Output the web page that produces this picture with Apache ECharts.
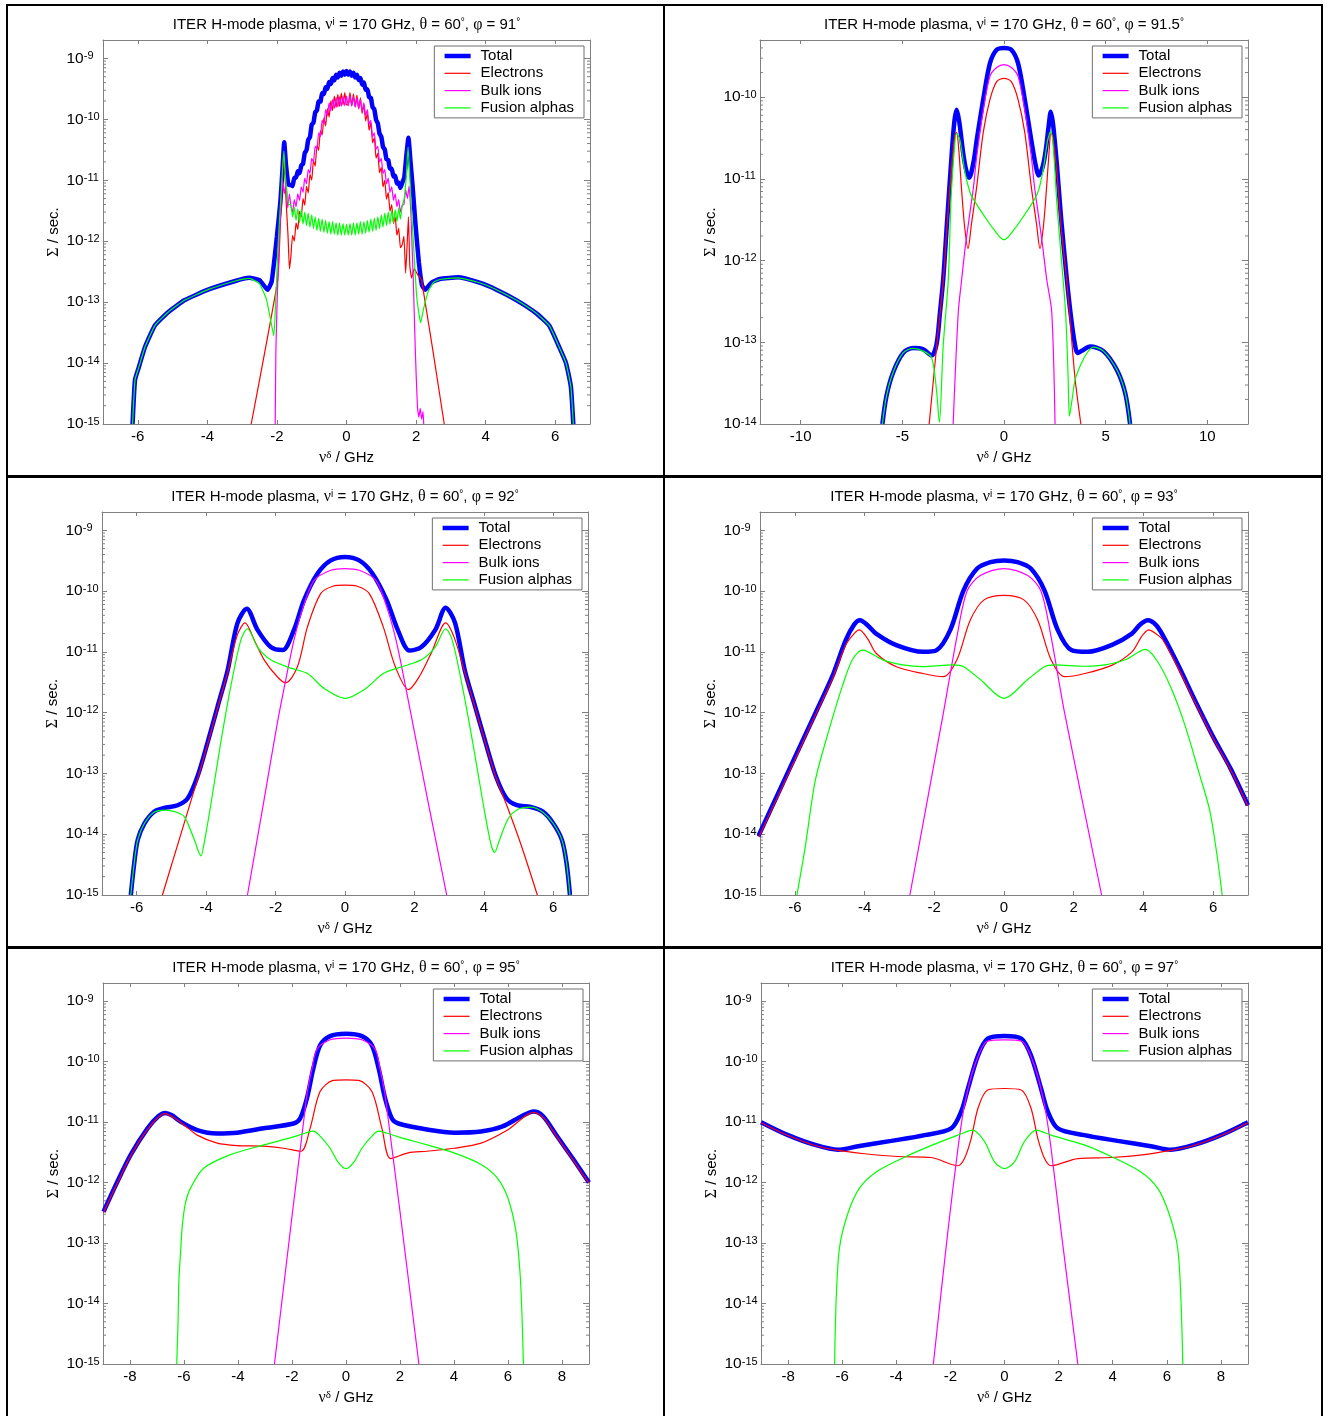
<!DOCTYPE html>
<html><head><meta charset="utf-8">
<script src="https://cdn.jsdelivr.net/npm/echarts@6/dist/echarts.min.js"></script>
<style>html,body{margin:0;padding:0;background:#fff}#c{width:1332px;height:1416px}</style>
</head><body><div id="c"></div>
<script>
// ---------------- DATA ----------------
const seriesNames = ['Total', 'Electrons', 'Bulk ions', 'Fusion alphas'];
const phiLabels = ['91', '91.5', '92', '93', '95', '97'];
const xTicks7 = [-6, -4, -2, 0, 2, 4, 6];
const xTicks12 = [-10, -5, 0, 5, 10];
const xTicks9 = [-8, -6, -4, -2, 0, 2, 4, 6, 8];

// Panel 1 (phi = 91)
const p1TotalL = [[-6.15,1e-15],[-6.08,5.3e-15],[-5.98,8.2e-15],[-5.79,1.85e-14],[-5.5,4.2e-14],[-5.12,6.9e-14],[-4.65,1.08e-13],[-3.98,1.6e-13],[-3.22,2.2e-13],[-2.8,2.5e-13],[-2.5,2.3e-13],[-2.27,1.6e-13],[-2.15,2.2e-13],[-2.0,1.2e-12],[-1.9,4.5e-12],[-1.84,1.5e-11],[-1.79,4.2e-11],[-1.74,1.8e-11],[-1.67,8.5e-12]];
const p1TotalR = [[1.66,1.1e-11],[1.72,2.5e-11],[1.78,5e-11],[1.84,2e-11],[1.9,8e-12],[1.98,2e-12],[2.08,4.5e-13],[2.17,1.9e-13],[2.26,1.6e-13],[2.45,2.1e-13],[2.68,2.4e-13],[3.2,2.55e-13],[3.8,2.1e-13],[4.31,1.6e-13],[4.88,1.08e-13],[5.45,6.6e-14],[5.83,4.1e-14],[6.11,1.85e-14],[6.31,1e-14],[6.45,4.1e-15],[6.52,1e-15]];
const p1ElectronsL = [[-2.74,1e-15],[-1.98,2.3e-13],[-1.9,2e-12],[-1.83,1.5e-11],[-1.79,2.5e-11],[-1.74,5e-12],[-1.68,1.2e-12],[-1.64,3.5e-13]];
const p1ElectronsR = [[1.65,1.2e-12],[1.7,3e-13],[1.74,8e-13],[1.78,2.5e-12],[1.82,4e-13],[1.87,2.5e-13],[1.95,3.5e-13],[2.05,2.8e-13],[2.16,2.3e-13],[2.81,1e-15]];
const p1BulkL = [[-2.05,1e-15],[-2.03,1.6e-14],[-1.99,1.2e-13],[-1.94,8e-13],[-1.89,3.5e-12],[-1.84,1e-11],[-1.79,6e-12],[-1.74,9e-12],[-1.69,3.5e-12],[-1.64,6e-12]];
const p1BulkR = [[1.65,4e-12],[1.7,7e-12],[1.75,5e-12],[1.8,8e-12],[1.85,3e-12],[1.88,1e-12],[1.92,2.3e-13],[1.98,1.5e-14],[2.04,1.9e-15],[2.08,1.3e-15],[2.12,1.8e-15],[2.16,1.2e-15],[2.2,1.6e-15],[2.22,1e-15]];
const p1AlphasL = [[-6.15,1e-15],[-6.08,5.3e-15],[-5.98,8.2e-15],[-5.79,1.85e-14],[-5.5,4.2e-14],[-5.12,6.9e-14],[-4.65,1.08e-13],[-3.98,1.6e-13],[-3.22,2.2e-13],[-2.8,2.45e-13],[-2.5,2.0e-13],[-2.3,1.1e-13],[-2.18,5e-14],[-2.09,2.8e-14],[-2.03,1.2e-13],[-1.97,8e-13],[-1.9,4e-12],[-1.84,1.5e-11],[-1.8,3e-11],[-1.76,1.2e-11],[-1.7,5.5e-12],[-1.65,4e-12]];
const p1AlphasR = [[1.66,5e-12],[1.72,1.2e-11],[1.77,3.5e-11],[1.81,1.5e-11],[1.86,4e-12],[1.93,8e-13],[2.02,1.2e-13],[2.13,4.6e-14],[2.22,8e-14],[2.35,1.5e-13],[2.5,2.1e-13],[2.68,2.35e-13],[3.2,2.5e-13],[3.8,2.1e-13],[4.31,1.6e-13],[4.88,1.08e-13],[5.45,6.6e-14],[5.83,4.1e-14],[6.11,1.85e-14],[6.31,1e-14],[6.45,4.1e-15],[6.52,1e-15]];
// noisy central region of panel 1
const p1NoiseX = [-1.6,-1.55,-1.5,-1.45,-1.4,-1.35,-1.3,-1.25,-1.2,-1.15,-1.1,-1.05,-1.0,-0.95,-0.9,-0.85,-0.8,-0.75,-0.7,-0.65,-0.6,-0.55,-0.5,-0.45,-0.4,-0.35,-0.3,-0.25,-0.2,-0.15,-0.1,-0.05,0,0.05,0.1,0.15,0.2,0.25,0.3,0.35,0.4,0.45,0.5,0.55,0.6,0.65,0.7,0.75,0.8,0.85,0.9,0.95,1.0,1.05,1.1,1.15,1.2,1.25,1.3,1.35,1.4,1.45,1.5,1.55,1.6];
const p1NoiseTotal = [8.3e-12,8.0e-12,1.1e-11,1.1e-11,1.4e-11,1.3e-11,1.75e-11,1.85e-11,2.8e-11,3.1e-11,4.6e-11,5.1e-11,8.2e-11,8.8e-11,1.3e-10,1.4e-10,1.95e-10,1.95e-10,2.7e-10,2.6e-10,3.35e-10,3.15e-10,4.1e-10,3.8e-10,4.75e-10,4.35e-10,5.4e-10,4.85e-10,5.8e-10,5.2e-10,6.1e-10,5.4e-10,6.2e-10,5.4e-10,6.1e-10,5.2e-10,5.8e-10,4.85e-10,5.4e-10,4.4e-10,4.75e-10,3.7e-10,4.0e-10,3.05e-10,3.1e-10,2.3e-10,2.25e-10,1.58e-10,1.45e-10,9.8e-11,8.6e-11,5.8e-11,5.2e-11,3.5e-11,3.2e-11,2.2e-11,2.15e-11,1.55e-11,1.55e-11,1.15e-11,1.18e-11,8.8e-12,9.1e-12,7.5e-12,9e-12];
const p1NoiseElectrons = [5.5e-13,1.25e-12,1.0e-12,2.0e-12,1.56e-12,3.1e-12,2.5e-12,5.0e-12,3.9e-12,7.9e-12,6.2e-12,1.25e-11,1.0e-11,2.1e-11,1.7e-11,3.75e-11,3.1e-11,6.6e-11,5.5e-11,1.06e-10,7.8e-11,1.5e-10,1.09e-10,2.0e-10,1.4e-10,2.4e-10,1.56e-10,2.56e-10,1.64e-10,2.7e-10,1.72e-10,2.75e-10,1.72e-10,1.72e-10,2.75e-10,1.68e-10,2.62e-10,1.6e-10,2.5e-10,1.48e-10,2.25e-10,1.25e-10,1.75e-10,9.4e-11,1.25e-10,6.6e-11,8.75e-11,4.1e-11,5e-11,2.3e-11,2.75e-11,1.33e-11,1.63e-11,7.8e-12,1.0e-11,4.9e-12,6.25e-12,3.1e-12,4e-12,1.95e-12,2.5e-12,1.25e-12,1.63e-12,7.8e-13,8.75e-13];
const p1NoiseBulk = [3.84e-12,3.0e-12,4.8e-12,3.7e-12,6.0e-12,4.7e-12,7.8e-12,6.3e-12,1.08e-11,8.7e-12,1.5e-11,1.29e-11,2.28e-11,2.0e-11,3.6e-11,3.24e-11,6.0e-11,5.2e-11,9.6e-11,8.3e-11,1.44e-10,1.15e-10,1.86e-10,1.37e-10,2.1e-10,1.51e-10,2.26e-10,1.59e-10,2.34e-10,1.64e-10,2.4e-10,1.66e-10,2.4e-10,1.66e-10,2.4e-10,1.64e-10,2.34e-10,1.59e-10,2.26e-10,1.51e-10,2.1e-10,1.37e-10,1.86e-10,1.15e-10,1.44e-10,8.3e-11,9.6e-11,5.2e-11,6e-11,3.24e-11,3.6e-11,2e-11,2.28e-11,1.29e-11,1.5e-11,8.7e-12,1.08e-11,6.3e-12,7.8e-12,4.7e-12,6e-12,3.7e-12,4.8e-12,3e-12,3.84e-12];
const p1NoiseAlphas = [4.0e-12,2.5e-12,3.6e-12,2.2e-12,3.4e-12,2.0e-12,3.3e-12,1.9e-12,3.0e-12,1.8e-12,2.9e-12,1.7e-12,2.7e-12,1.6e-12,2.5e-12,1.5e-12,2.4e-12,1.45e-12,2.3e-12,1.4e-12,2.2e-12,1.35e-12,2.1e-12,1.3e-12,2.1e-12,1.3e-12,2.0e-12,1.25e-12,2.0e-12,1.25e-12,1.95e-12,1.25e-12,1.9e-12,1.25e-12,1.95e-12,1.25e-12,2.0e-12,1.25e-12,2.0e-12,1.3e-12,2.1e-12,1.3e-12,2.1e-12,1.35e-12,2.2e-12,1.4e-12,2.3e-12,1.45e-12,2.4e-12,1.5e-12,2.5e-12,1.6e-12,2.7e-12,1.7e-12,2.9e-12,1.8e-12,3.0e-12,1.9e-12,3.2e-12,2.0e-12,3.3e-12,2.1e-12,3.5e-12,2.3e-12,3.8e-12];

// Panel 2 (phi = 91.5)
const p2Total = [[-5.98,1e-14],[-5.78,2.2e-14],[-5.45,4.3e-14],[-4.96,7.4e-14],[-4.47,8.5e-14],[-3.97,8.2e-14],[-3.56,6.9e-14],[-3.32,9.4e-14],[-3.15,2.3e-13],[-2.99,5.9e-13],[-2.8,3e-12],[-2.6,1.6e-11],[-2.45,4.8e-11],[-2.33,7e-11],[-2.2,5e-11],[-2.0,2e-11],[-1.85,1.25e-11],[-1.71,1.03e-11],[-1.5,1.6e-11],[-1.34,3e-11],[-1.02,9.4e-11],[-0.69,2.6e-10],[-0.36,3.8e-10],[0,4.0e-10],[0.36,3.8e-10],[0.69,2.6e-10],[1.02,9.4e-11],[1.34,3e-11],[1.55,1.5e-11],[1.71,1.1e-11],[1.9,1.4e-11],[2.05,2.2e-11],[2.2,4.5e-11],[2.3,6.6e-11],[2.42,4.5e-11],[2.6,1.5e-11],[2.8,3.5e-12],[3.09,5.9e-13],[3.3,2e-13],[3.5,9e-14],[3.61,7.4e-14],[3.8,7.8e-14],[4.24,8.9e-14],[4.89,7.8e-14],[5.55,4.6e-14],[5.96,2.4e-14],[6.2,1e-14]];
const p2Electrons = [[-3.68,1e-14],[-3.32,8.5e-14],[-2.99,5.5e-13],[-2.8,2.7e-12],[-2.6,1.2e-11],[-2.42,3.4e-11],[-2.33,3.7e-11],[-2.22,2.2e-11],[-2.08,7e-12],[-1.93,2.5e-12],[-1.77,1.4e-12],[-1.6,2.8e-12],[-1.34,8.1e-12],[-1.02,3.7e-11],[-0.69,9.4e-11],[-0.36,1.55e-10],[0,1.7e-10],[0.36,1.55e-10],[0.69,9.4e-11],[1.02,3.7e-11],[1.34,8.1e-12],[1.6,2.8e-12],[1.77,1.4e-12],[1.93,2.5e-12],[2.08,7e-12],[2.22,2.2e-11],[2.31,3.6e-11],[2.4,3.3e-11],[2.6,1.2e-11],[2.8,2.7e-12],[3.09,5.5e-13],[3.3,1.3e-13],[3.5,3.5e-14],[3.78,1e-14]];
const p2Bulk = [[-2.5,1e-14],[-2.25,2.3e-13],[-2.08,5.9e-13],[-1.9,1.5e-12],[-1.7,3.5e-12],[-1.5,8e-12],[-1.34,1.9e-11],[-1.02,6.9e-11],[-0.69,1.8e-10],[-0.36,2.3e-10],[0,2.5e-10],[0.36,2.3e-10],[0.69,1.8e-10],[1.02,6.9e-11],[1.34,1.9e-11],[1.5,8e-12],[1.7,3.5e-12],[1.9,1.5e-12],[2.1,5.9e-13],[2.35,2.3e-13],[2.51,1e-14]];
const p2Alphas = [[-5.98,1e-14],[-5.78,2.2e-14],[-5.45,4.3e-14],[-4.96,7.4e-14],[-4.47,8.4e-14],[-3.97,7.8e-14],[-3.56,6.5e-14],[-3.32,2.6e-14],[-3.18,1.05e-14],[-2.99,9e-14],[-2.74,5.9e-13],[-2.6,6e-12],[-2.45,2.2e-11],[-2.33,3.6e-11],[-2.17,3e-11],[-1.92,1.2e-11],[-1.67,6.8e-12],[-1.5,5.6e-12],[-1.0,3.6e-12],[-0.5,2.4e-12],[0,1.8e-12],[0.5,2.4e-12],[1.0,3.6e-12],[1.5,5.6e-12],[1.72,7.5e-12],[1.95,1.4e-11],[2.15,3e-11],[2.3,3.8e-11],[2.42,2.5e-11],[2.6,5e-12],[2.8,1.2e-12],[3.03,2.3e-13],[3.15,4e-14],[3.22,1.25e-14],[3.35,2e-14],[3.5,3.5e-14],[3.8,5.5e-14],[4.1,7.5e-14],[4.4,8.7e-14],[4.89,7.8e-14],[5.55,4.6e-14],[5.96,2.4e-14],[6.2,1e-14]];

// Panel 3 (phi = 92)
const p3Total = [[-6.17,1e-15],[-6.07,3.4e-15],[-5.97,8.1e-15],[-5.78,1.5e-14],[-5.5,2.35e-14],[-5.21,2.7e-14],[-4.82,3.0e-14],[-4.53,3.9e-14],[-4.25,8.9e-14],[-3.96,3.2e-13],[-3.67,1.26e-12],[-3.38,5e-12],[-3.1,2.95e-11],[-2.83,5.1e-11],[-2.52,2.3e-11],[-2.14,1.2e-11],[-1.8,1.07e-11],[-1.47,2.3e-11],[-1.18,7.1e-11],[-0.79,1.95e-10],[-0.41,3.2e-10],[0,3.65e-10],[0.41,3.2e-10],[0.79,1.95e-10],[1.2,7.1e-11],[1.52,2.3e-11],[1.86,1.05e-11],[2.2,1.2e-11],[2.6,2.3e-11],[2.9,5.3e-11],[3.17,3e-11],[3.45,5e-12],[3.75,1.26e-12],[4.05,3.2e-13],[4.35,8.9e-14],[4.65,3.9e-14],[4.95,3.0e-14],[5.35,2.8e-14],[5.7,2.35e-14],[6.0,1.5e-14],[6.25,8e-15],[6.38,3.4e-15],[6.48,1e-15]];
const p3Electrons = [[-5.26,1e-15],[-4.25,8e-14],[-3.96,3.0e-13],[-3.67,1.2e-12],[-3.38,4.6e-12],[-3.1,1.9e-11],[-2.88,3e-11],[-2.6,1.5e-11],[-2.33,7.4e-12],[-1.95,3.9e-12],[-1.71,3.1e-12],[-1.37,5.7e-12],[-1.08,2.6e-11],[-0.7,9.1e-11],[-0.35,1.2e-10],[0,1.25e-10],[0.35,1.2e-10],[0.7,9.1e-11],[1.1,2.6e-11],[1.45,5.7e-12],[1.83,2.4e-12],[2.15,4e-12],[2.5,1e-11],[2.9,3e-11],[3.15,1.7e-11],[3.45,4.6e-12],[3.75,1.2e-12],[4.05,3.1e-13],[4.35,8.5e-14],[4.7,2.6e-14],[5.1,6e-15],[5.54,1e-15]];
const p3Bulk = [[-2.81,1e-15],[-2.33,3.7e-14],[-1.95,6.7e-13],[-1.71,3.4e-12],[-1.47,1.56e-11],[-1.23,4.9e-11],[-0.89,1.5e-10],[-0.41,2.2e-10],[0,2.35e-10],[0.41,2.2e-10],[0.89,1.5e-10],[1.23,4.9e-11],[1.47,1.56e-11],[1.71,3.4e-12],[1.95,6.7e-13],[2.38,3.7e-14],[2.93,1e-15]];
const p3Alphas = [[-6.17,1e-15],[-6.07,3.4e-15],[-5.97,8.1e-15],[-5.78,1.5e-14],[-5.5,2.3e-14],[-5.17,2.5e-14],[-4.9,2.35e-14],[-4.63,1.95e-14],[-4.34,8.1e-15],[-4.15,4.4e-15],[-4.06,7e-15],[-3.86,3.2e-14],[-3.58,3.2e-13],[-3.29,2.7e-12],[-3.0,1.56e-11],[-2.81,2.4e-11],[-2.52,1.2e-11],[-2.14,7.4e-12],[-1.56,5.4e-12],[-1.08,4.4e-12],[-0.6,2.5e-12],[0,1.72e-12],[0.6,2.5e-12],[1.1,4.4e-12],[1.6,5.6e-12],[2.2,7.4e-12],[2.6,1.2e-11],[2.9,2.4e-11],[3.09,1.56e-11],[3.38,2.7e-12],[3.68,3.2e-13],[3.98,3.2e-14],[4.2,7e-15],[4.31,5e-15],[4.45,8e-15],[4.7,1.8e-14],[5.0,2.6e-14],[5.35,2.8e-14],[5.7,2.3e-14],[6.0,1.5e-14],[6.25,8e-15],[6.38,3.4e-15],[6.48,1e-15]];

// Panel 4 (phi = 93)
const p4Total = [[-7.05,9.2e-15],[-6.18,1.1e-13],[-5.41,9.8e-13],[-4.93,3.9e-12],[-4.54,1.56e-11],[-4.3,2.8e-11],[-4.13,3.3e-11],[-3.9,2.7e-11],[-3.67,2e-11],[-3.09,1.29e-11],[-2.32,1e-11],[-1.93,1.07e-11],[-1.54,2.3e-11],[-1.16,1.03e-10],[-0.77,2.35e-10],[-0.39,3e-10],[0,3.2e-10],[0.39,3e-10],[0.77,2.35e-10],[1.16,1.03e-10],[1.54,2.3e-11],[1.93,1.07e-11],[2.4,1e-11],[3.1,1.3e-11],[3.67,2e-11],[3.9,2.8e-11],[4.13,3.3e-11],[4.35,2.8e-11],[4.55,1.9e-11],[5.0,6e-12],[5.5,1.5e-12],[6.0,4e-13],[6.5,1.2e-13],[7.0,3e-14]];
const p4Electrons = [[-7.05,8.6e-15],[-6.18,1.0e-13],[-5.41,9.2e-13],[-4.93,3.5e-12],[-4.54,1.3e-11],[-4.3,2e-11],[-4.15,2.3e-11],[-3.9,1.6e-11],[-3.67,9.5e-12],[-3.09,5.7e-12],[-2.32,4.4e-12],[-1.74,3.9e-12],[-1.35,7.4e-12],[-0.97,3.3e-11],[-0.58,7.1e-11],[0,8.5e-11],[0.58,7.1e-11],[0.97,3.3e-11],[1.35,7.4e-12],[1.74,3.9e-12],[2.32,4.4e-12],[3.09,6e-12],[3.67,1e-11],[3.95,1.8e-11],[4.15,2.3e-11],[4.35,2e-11],[4.55,1.6e-11],[5.0,5.4e-12],[5.5,1.4e-12],[6.0,3.8e-13],[6.5,1.15e-13],[7.0,2.9e-14]];
const p4Bulk = [[-2.7,1e-15],[-1.74,9.8e-13],[-1.35,1.78e-11],[-1.06,1e-10],[-0.68,1.8e-10],[0,2.35e-10],[0.68,1.8e-10],[1.06,1e-10],[1.35,1.78e-11],[1.74,9.8e-13],[2.8,1e-15]];
const p4Alphas = [[-5.94,1e-15],[-5.7,6.3e-15],[-5.41,7.8e-14],[-5.02,5.2e-13],[-4.64,2.7e-12],[-4.35,7.4e-12],[-4.06,1.07e-11],[-3.48,7.4e-12],[-2.9,6.1e-12],[-2.32,5.7e-12],[-1.75,6e-12],[-1.45,6.1e-12],[-1.16,5.7e-12],[-0.68,3.5e-12],[0,1.72e-12],[0.68,3.5e-12],[1.16,5.7e-12],[1.45,6.1e-12],[2.32,5.8e-12],[2.9,6.1e-12],[3.48,7.4e-12],[4.06,1.1e-11],[4.4,7e-12],[4.8,2.5e-12],[5.2,6e-13],[5.6,1e-13],[5.9,2.5e-14],[6.1,5e-15],[6.26,1e-15]];

// Panel 5 (phi = 95)
const p5Total = [[-8.98,3.3e-13],[-8.46,1.05e-12],[-7.97,2.9e-12],[-7.35,7.9e-12],[-6.95,1.25e-11],[-6.7,1.42e-11],[-6.45,1.3e-11],[-6.13,1.02e-11],[-5.51,7.4e-12],[-4.77,6.5e-12],[-4.03,6.7e-12],[-3.05,7.9e-12],[-1.94,9.5e-12],[-1.7,1.15e-11],[-1.45,2.45e-11],[-1.21,7.7e-11],[-0.96,1.86e-10],[-0.59,2.65e-10],[0,2.9e-10],[0.59,2.65e-10],[0.96,1.86e-10],[1.21,7.7e-11],[1.45,2.45e-11],[1.7,1.15e-11],[1.94,9.5e-12],[3.05,7.5e-12],[4.03,6.7e-12],[5.0,7e-12],[5.8,8.5e-12],[6.5,1.25e-11],[6.95,1.5e-11],[7.3,1.25e-11],[7.8,6e-12],[8.4,2.5e-12],[9.0,1.0e-12]];
const p5Electrons = [[-8.98,3.2e-13],[-8.46,1.0e-12],[-7.97,2.8e-12],[-7.35,7.6e-12],[-6.7,1.38e-11],[-6.0,9e-12],[-5.51,6.1e-12],[-4.77,4.5e-12],[-4.03,4.1e-12],[-3.05,4e-12],[-2.31,3.7e-12],[-1.67,3.3e-12],[-1.33,7.9e-12],[-0.96,3.2e-11],[-0.47,4.9e-11],[0,5e-11],[0.47,4.9e-11],[0.96,3.2e-11],[1.33,7.9e-12],[1.65,2.5e-12],[2.3,3.1e-12],[3.0,3.3e-12],[4.0,3.7e-12],[5.0,4.5e-12],[6.0,7.5e-12],[6.95,1.45e-11],[7.3,1.2e-11],[7.8,5.8e-12],[8.4,2.4e-12],[9.0,9.8e-13]];
const p5Bulk = [[-2.65,1e-15],[-1.45,2.8e-11],[-1.25,8e-11],[-1.08,1.6e-10],[-0.59,2.3e-10],[0,2.45e-10],[0.59,2.3e-10],[1.08,1.6e-10],[1.25,8e-11],[1.45,2.8e-11],[2.7,1e-15]];
const p5Alphas = [[-6.27,1e-15],[-6.22,5e-15],[-6.19,2.3e-14],[-6.12,8e-14],[-6.06,2e-13],[-5.95,4.5e-13],[-5.76,8.1e-13],[-5.27,1.73e-12],[-4.28,2.9e-12],[-3.05,4.2e-12],[-1.94,5.7e-12],[-1.5,6.6e-12],[-1.21,7.1e-12],[-0.9,5.5e-12],[-0.59,3.7e-12],[-0.3,2.2e-12],[0,1.7e-12],[0.3,2.2e-12],[0.59,3.7e-12],[0.9,5.5e-12],[1.21,7.1e-12],[1.5,6.6e-12],[2.0,5.6e-12],[3.0,4.2e-12],[4.0,3.1e-12],[5.0,2.0e-12],[5.6,1.2e-12],[6.0,5.5e-13],[6.3,1.5e-13],[6.45,3e-14],[6.52,6e-15],[6.57,1e-15]];

// Panel 6 (phi = 97)
const p6Total = [[-9.0,1.0e-11],[-8.0,6.1e-12],[-7.0,4.2e-12],[-6.15,3.5e-12],[-5.41,4e-12],[-4.18,4.9e-12],[-2.95,6.1e-12],[-1.97,7.9e-12],[-1.6,1.5e-11],[-1.35,3.6e-11],[-0.98,1.26e-10],[-0.62,2.4e-10],[0,2.65e-10],[0.62,2.4e-10],[0.98,1.26e-10],[1.35,3.6e-11],[1.6,1.5e-11],[1.97,7.9e-12],[2.95,6.1e-12],[4.18,4.9e-12],[5.41,4e-12],[6.15,3.5e-12],[7.0,4.2e-12],[8.0,6.1e-12],[9.0,1.0e-11]];
const p6Electrons = [[-9.0,9.8e-12],[-8.0,6e-12],[-7.0,4.1e-12],[-6.15,3.4e-12],[-5.17,3.0e-12],[-3.94,2.7e-12],[-2.71,2.6e-12],[-1.72,1.9e-12],[-1.48,2.5e-12],[-1.23,5.4e-12],[-0.98,1.7e-11],[-0.62,3.4e-11],[0,3.6e-11],[0.62,3.4e-11],[0.98,1.7e-11],[1.23,5.4e-12],[1.48,2.5e-12],[1.72,1.9e-12],[2.71,2.5e-12],[3.94,2.6e-12],[5.17,2.9e-12],[6.15,3.4e-12],[7.0,4.1e-12],[8.0,6e-12],[9.0,9.8e-12]];
const p6Bulk = [[-2.63,1e-15],[-2.09,1.6e-13],[-1.72,3.7e-12],[-1.48,1.9e-11],[-1.1,8.7e-11],[-0.62,2.2e-10],[0,2.3e-10],[0.62,2.2e-10],[1.1,8.7e-11],[1.48,1.9e-11],[1.72,3.7e-12],[2.09,1.6e-13],[2.71,1e-15]];
const p6Alphas = [[-6.28,1e-15],[-6.22,1.2e-14],[-6.1,8.3e-14],[-5.8,3e-13],[-5.36,8.1e-13],[-4.74,1.5e-12],[-3.64,2.7e-12],[-2.65,4.2e-12],[-1.72,6.1e-12],[-1.17,7.4e-12],[-0.74,4.8e-12],[-0.37,2.2e-12],[0,1.7e-12],[0.37,2.2e-12],[0.74,4.8e-12],[1.17,7.4e-12],[1.72,6.1e-12],[2.95,4.2e-12],[3.94,2.7e-12],[5.04,1.5e-12],[5.66,8.1e-13],[6.09,3e-13],[6.4,8.3e-14],[6.52,1.2e-14],[6.59,1e-15]];

// ---------------- BUILD ----------------
function zip(xs, ys) { return xs.map((x, i) => [x, ys[i]]); }
const p1Total = p1TotalL.concat(zip(p1NoiseX, p1NoiseTotal), p1TotalR);
const p1Electrons = p1ElectronsL.concat(zip(p1NoiseX, p1NoiseElectrons), p1ElectronsR);
const p1Bulk = p1BulkL.concat(zip(p1NoiseX, p1NoiseBulk), p1BulkR);
const p1Alphas = p1AlphasL.concat(zip(p1NoiseX, p1NoiseAlphas), p1AlphasR);

const FONT = '"Liberation Sans", Arial, sans-serif';
const GREEK = '"Liberation Serif", "DejaVu Serif", serif';
const GRAY = '#808080';
const COLORS = ['#0000ff', '#ff0000', '#ff00ff', '#00ff00'];
const WIDTHS = [4.5, 1.2, 1.2, 1.2];
const W = 1332;

const panels = [
  { grid: { left: 103, top: 40, width: 487, height: 384 }, xr: [-7, 7], xt: xTicks7, yr: [1e-15, 2e-9], data: [p1Total, p1Electrons, p1Bulk, p1Alphas], smooth: 0.15 },
  { grid: { left: 760, top: 40, width: 488, height: 384 }, xr: [-12, 12], xt: xTicks12, yr: [1e-14, 5e-10], data: [p2Total, p2Electrons, p2Bulk, p2Alphas], smooth: 0.3 },
  { grid: { left: 102, top: 512, width: 486, height: 383 }, xr: [-7, 7], xt: xTicks7, yr: [1e-15, 2e-9], data: [p3Total, p3Electrons, p3Bulk, p3Alphas], smooth: 0.3 },
  { grid: { left: 760, top: 512, width: 488, height: 383 }, xr: [-7, 7], xt: xTicks7, yr: [1e-15, 2e-9], data: [p4Total, p4Electrons, p4Bulk, p4Alphas], smooth: 0.3 },
  { grid: { left: 103, top: 983, width: 486, height: 384 }, xr: [-9, 9], xt: xTicks9, yr: [1e-15, 2e-9], data: [p5Total, p5Electrons, p5Bulk, p5Alphas], smooth: 0.3 },
  { grid: { left: 761, top: 983, width: 487, height: 384 }, xr: [-9, 9], xt: xTicks9, yr: [1e-15, 2e-9], data: [p6Total, p6Electrons, p6Bulk, p6Alphas], smooth: 0.3 }
];

const supRich = {
  t: { fontSize: 15, fontFamily: FONT, fontWeight: 'normal', color: '#000', lineHeight: 16 },
  b: { fontSize: 15.5, fontFamily: FONT, fontWeight: 'normal', color: '#000', lineHeight: 16 },
  g: { fontSize: 16, fontFamily: GREEK, fontWeight: 'normal', color: '#000', lineHeight: 16 },
  s: { fontSize: 10, fontFamily: FONT, fontWeight: 'normal', color: '#000', lineHeight: 10, verticalAlign: 'top', padding: [0, 0, 14, 0] },
  e: { fontSize: 11, fontFamily: FONT, fontWeight: 'normal', color: '#000', lineHeight: 11, verticalAlign: 'top', padding: [0, 0, 14, 0] },
  sg: { fontSize: 11, fontFamily: GREEK, fontWeight: 'normal', color: '#000', lineHeight: 10, verticalAlign: 'top', padding: [0, 0, 14, 0] }
};

function decadeLabel(v) {
  const e = Math.log10(v);
  const r = Math.round(e);
  if (Math.abs(e - r) > 1e-6) return '';
  return '{b|10}{e|' + r + '}';
}

function minorValues(yMin, yMax) {
  const out = [];
  for (let e = Math.floor(Math.log10(yMin)); e <= Math.ceil(Math.log10(yMax)); e++) {
    for (let k = 2; k <= 9; k++) {
      const v = k * Math.pow(10, e);
      if (v > yMin * 1.0001 && v < yMax * 0.9999) out.push(v);
    }
  }
  return out;
}

const grids = [], xAxes = [], yAxes = [], series = [], legends = [], titles = [];
panels.forEach((p, i) => {
  const g = p.grid;
  grids.push({ left: g.left, top: g.top, width: g.width, height: g.height, containLabel: false, show: false });
  const xBase = {
    type: 'value', gridIndex: i, min: p.xr[0], max: p.xr[1],
    axisLine: { show: true, onZero: false, lineStyle: { color: GRAY, width: 1 } },
    axisTick: { show: true, inside: true, length: 4, customValues: p.xt, lineStyle: { color: GRAY, width: 1 } },
    splitLine: { show: false }
  };
  xAxes.push(Object.assign({}, xBase, {
    position: 'bottom',
    axisLabel: { show: true, customValues: p.xt, margin: 5, color: '#000', fontSize: 15, fontFamily: FONT },
    name: '{g|ν}{sg|δ}{t| / GHz}', nameLocation: 'middle', nameGap: 26,
    nameTextStyle: { rich: supRich }
  }));
  xAxes.push(Object.assign({}, xBase, { position: 'top', axisLabel: { show: false } }));
  const yBase = {
    type: 'log', logBase: 10, gridIndex: i, min: p.yr[0], max: p.yr[1],
    axisLine: { show: true, onZero: false, lineStyle: { color: GRAY, width: 1 } },
    splitLine: { show: false }, minorTick: { show: false }
  };
  yAxes.push(Object.assign({}, yBase, {
    position: 'left',
    axisTick: { show: true, inside: true, length: 5, lineStyle: { color: GRAY } },
    axisLabel: { show: true, formatter: decadeLabel, margin: 36.5, align: 'left', rich: supRich },
    name: '{g|Σ}{t| / sec.}', nameLocation: 'middle', nameGap: 41, nameRotate: 90,
    nameMoveOverlap: false,
    nameTextStyle: { rich: supRich }
  }));
  yAxes.push(Object.assign({}, yBase, {
    position: 'right',
    axisTick: { show: true, inside: true, length: 6, lineStyle: { color: GRAY } },
    axisLabel: { show: false }
  }));

  // minor log ticks (axis decoration)
  const xr = p.xr;
  series.push({
    type: 'custom', xAxisIndex: 2 * i, yAxisIndex: 2 * i, silent: true, clip: false, z: 1,
    data: minorValues(p.yr[0], p.yr[1]).map(v => [xr[0], v]),
    encode: { x: 0, y: 1 },
    renderItem: function (params, api) {
      const v = api.value(1);
      const a = api.coord([xr[0], v]);
      const b = api.coord([xr[1], v]);
      return {
        type: 'group', children: [
          { type: 'line', shape: { x1: a[0], y1: a[1], x2: a[0] + 3, y2: a[1] }, style: { stroke: GRAY, lineWidth: 1 } },
          { type: 'line', shape: { x1: b[0] - 3, y1: b[1], x2: b[0], y2: b[1] }, style: { stroke: GRAY, lineWidth: 1 } }
        ]
      };
    }
  });

  p.data.forEach((d, k) => {
    series.push({
      type: 'line', name: seriesNames[k], xAxisIndex: 2 * i, yAxisIndex: 2 * i,
      data: d, symbol: 'none', showSymbol: false, smooth: p.smooth,
      lineStyle: { color: COLORS[k], width: WIDTHS[k] }, itemStyle: { color: COLORS[k] },
      z: 2 + k, animation: false, clip: true
    });
  });

  legends.push({
    orient: 'vertical', right: W - (g.left + g.width) + 6, top: g.top + 6,
    data: seriesNames, itemWidth: 26, itemHeight: 12, itemGap: 0.3,
    padding: [1.5, 10, 1.5, 8], backgroundColor: '#fff', borderColor: '#6e6e6e', borderWidth: 1,
    selectedMode: false,
    itemStyle: { opacity: 0 },
    lineStyle: { width: 'inherit' },
    textStyle: { fontSize: 15, fontFamily: FONT, color: '#000', lineHeight: 17, padding: [0, 0, 0, 5] }
  });

  titles.push({
    text: '{t|ITER H-mode plasma, }{g|ν}{s|i}{t| = 170 GHz, }{g|θ}{t| = 60}{s|°}{t|, }{g|φ}{t| = ' + phiLabels[i] + '}{s|°}',
    left: g.left + g.width / 2, top: g.top - 23, textAlign: 'center', padding: 0,
    textStyle: { fontWeight: 'normal', fontSize: 15, rich: supRich }
  });
});

const frame = [
  { x: 6, y: 4, w: 2, h: 1412 },
  { x: 663, y: 4, w: 2, h: 1412 },
  { x: 1321, y: 4, w: 2, h: 1412 },
  { x: 6, y: 4, w: 1317, h: 2 },
  { x: 6, y: 475, w: 1317, h: 3 },
  { x: 6, y: 946, w: 1317, h: 3 }
];

const chart = echarts.init(document.getElementById('c'), null, { renderer: 'canvas', width: 1332, height: 1416 });
chart.setOption({
  animation: false,
  backgroundColor: '#fff',
  title: titles,
  legend: legends,
  grid: grids,
  xAxis: xAxes,
  yAxis: yAxes,
  series: series,
  graphic: frame.map(f => ({ type: 'rect', shape: { x: f.x, y: f.y, width: f.w, height: f.h }, style: { fill: '#000' }, silent: true, z: 100 }))
});
</script></body></html>
